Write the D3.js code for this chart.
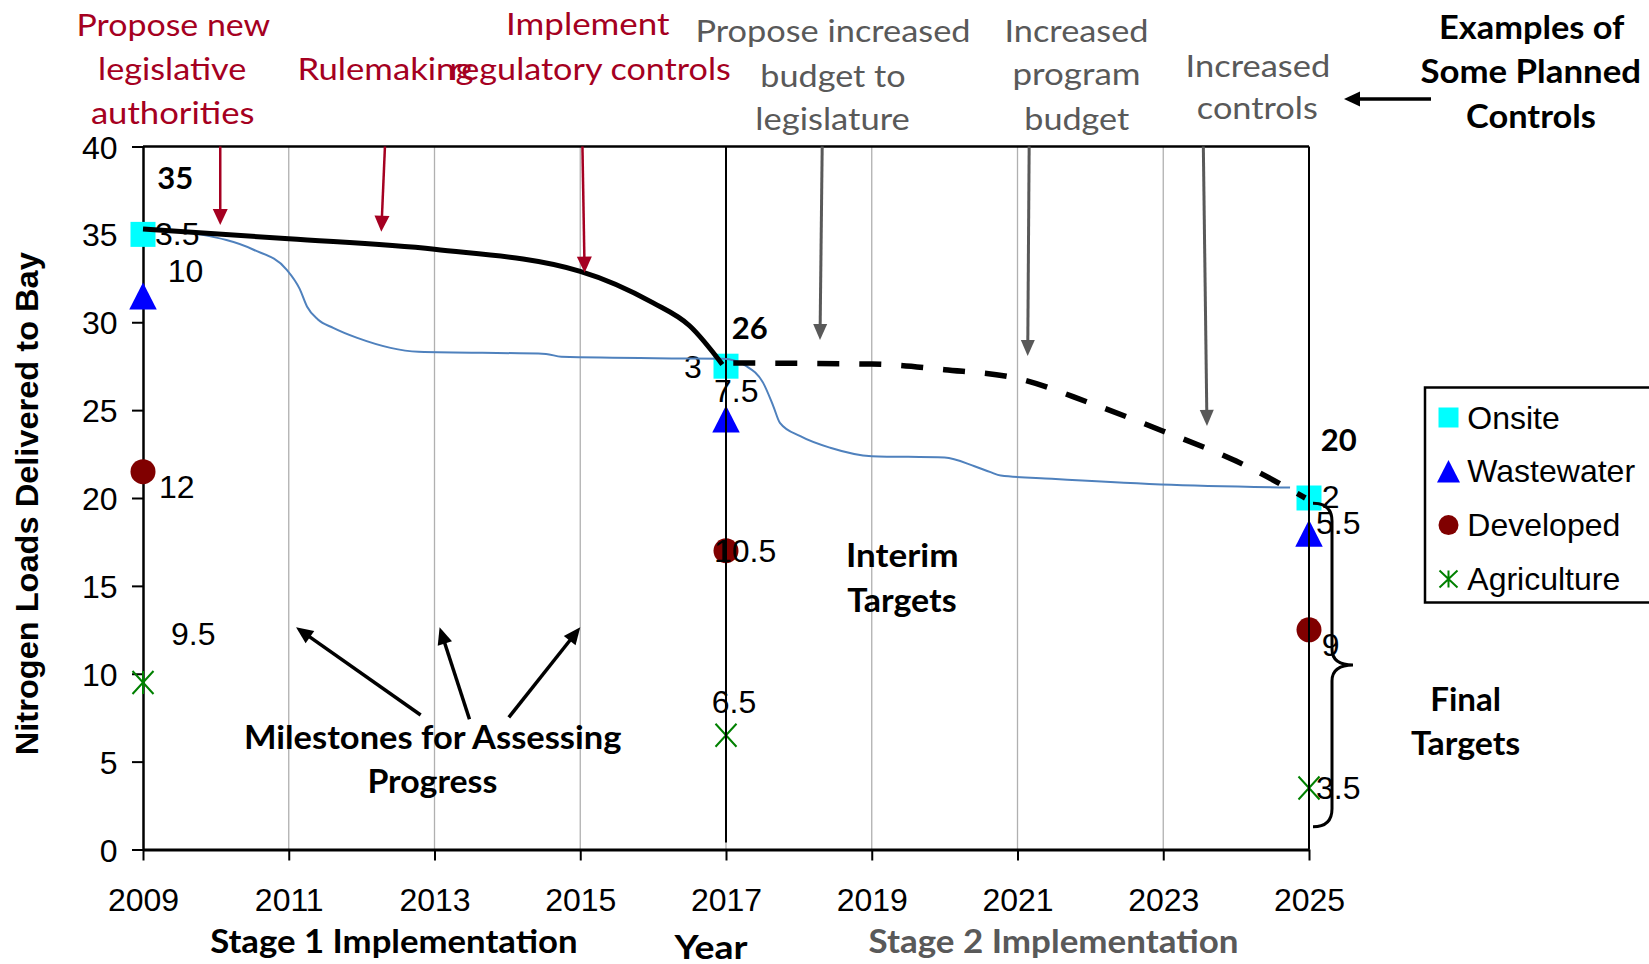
<!DOCTYPE html>
<html>
<head>
<meta charset="utf-8">
<script src="https://cdn.jsdelivr.net/npm/d3@7"></script>
<style>
body { margin: 0; background: #fff; }
svg { display: block; }
</style>
</head>
<body>
<svg></svg>
<script>
// loads by source (millions of lbs), stacked at each milestone year
let years = [2009, 2017, 2025]
let onsite = [3.5, 3, 2]
let wastewater = [10, 7.5, 5.5]
let developed = [12, 10.5, 9]
let agriculture = [9.5, 6.5, 3.5]
let targetLabels = ['35', '26', '20']

let yTicks = [0, 5, 10, 15, 20, 25, 30, 35, 40]
let xTicks = [2009, 2011, 2013, 2015, 2017, 2019, 2021, 2023, 2025]

// stage 1 path (solid), stage 2 path (dashed), actual trend (thin blue)
let stage1Years = [2009, 2011, 2013, 2015, 2016, 2016.5, 2016.95]
let stage1Loads = [35.3, 34.75, 34.15, 32.9, 31.1, 29.8, 27.6]
let stage2Years = [2017.1, 2019, 2020, 2021, 2022, 2023, 2024, 2024.95]
let stage2Loads = [27.68, 27.62, 27.3, 26.8, 25.4, 23.8, 22.1, 20.0]
let trendYears = [2009, 2009.78, 2010.51, 2010.97, 2011.15, 2011.25, 2011.4, 2011.61, 2011.94, 2012.78,
    2014.53, 2014.74, 2016.42, 2016.96, 2017.28, 2017.51, 2017.65, 2017.74, 2018.02, 2018.43,
    2019.0, 2020.0, 2020.41, 2020.63, 2020.77, 2021.47, 2022.97, 2024.74]
let trendLoads = [35.3, 35.0, 34.14, 33.0, 31.9, 30.9, 30.16, 29.68, 29.11, 28.32,
    28.2, 28.03, 27.94, 27.92, 27.5, 26.55, 25.22, 24.28, 23.52, 22.86,
    22.38, 22.3, 21.81, 21.47, 21.28, 21.09, 20.77, 20.6]

// annotation arrows in [year, load] -> [year, load]
let redArrows = [[2010.06, 40, 2010.06, 35.53], [2012.32, 40, 2012.27, 35.15], [2015.03, 40, 2015.06, 32.82]]
let grayArrows = [[2018.32, 40, 2018.29, 28.99], [2021.16, 40, 2021.14, 28.08], [2023.55, 40, 2023.6, 24.1]]
let milestoneArrows = [[2012.81, 7.65, 2011.1, 12.64], [2013.48, 7.41, 2013.07, 12.64], [2014.02, 7.52, 2015.0, 12.64]]

let width = 1649
let height = 964
let svg = d3.select('svg').attr('width', width).attr('height', height)

let x = d3.scaleLinear().domain([2009, 2025]).range([143, 1309])
let y = d3.scaleLinear().domain([0, 40]).range([849.5, 146.5])

let arial = '"Liberation Sans", Arial, sans-serif'
let calibri = 'Lato, "Open Sans", sans-serif'
let red = '#A50021'
let gray = '#595959'

// grid lines
svg.append('g').selectAll('line')
    .data(xTicks.filter(d => d != 2009 && d != 2025))
    .enter().append('line')
    .attr('x1', d => x(d)).attr('x2', d => x(d))
    .attr('y1', y(40)).attr('y2', y(0))
    .attr('stroke', '#b0b0b0').attr('stroke-width', 1.3)

// axes
let yAxis = d3.axisLeft(y).tickValues(yTicks).tickSize(11).tickSizeOuter(0).tickPadding(14.5)
let xAxis = d3.axisBottom(x).tickValues(xTicks).tickFormat(d3.format('d')).tickSize(11).tickSizeOuter(0).tickPadding(27.5)

let gy = svg.append('g').attr('transform', 'translate(' + x(2009) + ',0)').call(yAxis)
let gx = svg.append('g').attr('transform', 'translate(0,' + y(0) + ')').call(xAxis)
gy.select('.domain').attr('stroke-width', 2.5)
gx.select('.domain').attr('stroke-width', 3)
for (let g of [gx, gy]) {
    g.selectAll('.tick line').attr('stroke', '#000').attr('stroke-width', 2)
    g.selectAll('.tick text').attr('font-family', arial).attr('font-size', 32).attr('fill', '#000')
}
gy.selectAll('.tick text').attr('dy', '0.36em')

// frame top
svg.append('line').attr('x1', x(2009)).attr('x2', x(2025)).attr('y1', y(40)).attr('y2', y(40))
    .attr('stroke', '#000').attr('stroke-width', 2.5)

// stacked marker positions
let table = years.map((yr, i) => ({year: yr, agriculture: agriculture[i], developed: developed[i], wastewater: wastewater[i], onsite: onsite[i]}))
let stacked = d3.stack().keys(['agriculture', 'developed', 'wastewater', 'onsite'])(table)

let markerPath = (kind, w, h) => {
    if (kind == 'square') return `M${-w/2},${-h/2}h${w}v${h}h${-w}Z`
    if (kind == 'triangle') return `M0,${-h/2}L${w/2},${h/2}L${-w/2},${h/2}Z`
    if (kind == 'circle') return d3.symbol(d3.symbolCircle, Math.PI * w * w / 4)()
    return `M${-w/2},${-h/2}L${w/2},${h/2}M${-w/2},${h/2}L${w/2},${-h/2}M0,${-h/2}V${h/2}`
}

let seriesStyle = {
    onsite: {name: 'Onsite', kind: 'square', color: '#00FFFF', size: [25, 25], legend: [20, 20],
        offsets: [[12, 10.6, 'start'], [-24.3, 12.1, 'end'], [12.7, 10.3, 'start']]},
    wastewater: {name: 'Wastewater', kind: 'triangle', color: '#0000FF', size: [27.5, 27], legend: [23, 22.5],
        offsets: [[24.7, -14.2, 'start'], [-12, -17.2, 'start'], [7, 0.8, 'start']]},
    developed: {name: 'Developed', kind: 'circle', color: '#800000', size: [25, 25], legend: [20, 20],
        offsets: [[16, 26.7, 'start'], [-12, 11, 'start'], [12.7, 26.2, 'start']]},
    agriculture: {name: 'Agriculture', kind: 'star', color: '#008000', size: [21, 23], legend: [18, 17],
        offsets: [[28, -37.5, 'start'], [-14.3, -22.3, 'start'], [7, 11.3, 'start']]}
}

let markerLayer = svg.append('g')
let labelLayer = svg.append('g')
stacked.forEach(layer => {
    let st = seriesStyle[layer.key]
    markerLayer.selectAll(null)
        .data(layer)
        .enter().append('path')
        .attr('transform', d => 'translate(' + x(d.data.year) + ',' + y(d[1]) + ')')
        .attr('d', markerPath(st.kind, st.size[0], st.size[1]))
        .attr('fill', st.kind == 'star' ? 'none' : st.color)
        .attr('stroke', st.kind == 'star' ? st.color : 'none')
        .attr('stroke-width', 2)

    labelLayer.selectAll(null)
        .data(layer)
        .enter().append('text')
        .attr('x', (d, i) => x(d.data.year) + st.offsets[i][0])
        .attr('y', (d, i) => y(d[1]) + st.offsets[i][1])
        .attr('text-anchor', (d, i) => st.offsets[i][2])
        .attr('font-family', arial).attr('font-size', 32).attr('fill', '#000')
        .text(d => d.data[layer.key])
})

// target totals
let totalOffsets = [[14.3, -45.4], [5.7, -26.9], [11.7, -47.3]]
let topLayer = stacked[stacked.length - 1]
labelLayer.selectAll(null)
    .data(topLayer)
    .enter().append('text')
    .attr('x', (d, i) => x(d.data.year) + totalOffsets[i][0])
    .attr('y', (d, i) => y(d[1]) + totalOffsets[i][1])
    .attr('font-family', calibri).attr('font-weight', 700).attr('font-size', 31).attr('fill', '#000')
    .text((d, i) => targetLabels[i])

// vertical milestone lines
svg.append('line').attr('x1', x(2017)).attr('x2', x(2017)).attr('y1', y(40)).attr('y2', y(0) - 7)
    .attr('stroke', '#000').attr('stroke-width', 2)
svg.append('line').attr('x1', x(2025)).attr('x2', x(2025)).attr('y1', y(40)).attr('y2', y(0))
    .attr('stroke', '#000').attr('stroke-width', 2)

// curves
let line = d3.line().x(d => x(d[0])).y(d => y(d[1])).curve(d3.curveMonotoneX)
svg.append('path').attr('d', line(d3.zip(trendYears, trendLoads)))
    .attr('fill', 'none').attr('stroke', '#4F81BD').attr('stroke-width', 2)
svg.append('path').attr('d', line(d3.zip(stage1Years, stage1Loads)))
    .attr('fill', 'none').attr('stroke', '#000').attr('stroke-width', 5)
svg.append('path').attr('d', line(d3.zip(stage2Years, stage2Loads)))
    .attr('fill', 'none').attr('stroke', '#000').attr('stroke-width', 5.5)
    .attr('stroke-dasharray', '22,20')

// arrows
let drawArrow = (x1, y1, x2, y2, color, w, headLen, headW) => {
    let ang = Math.atan2(y2 - y1, x2 - x1)
    let hx = x2 - Math.cos(ang) * headLen
    let hy = y2 - Math.sin(ang) * headLen
    let px = -Math.sin(ang) * headW / 2
    let py = Math.cos(ang) * headW / 2
    svg.append('line').attr('x1', x1).attr('y1', y1)
        .attr('x2', x2 - Math.cos(ang) * headLen * 0.8).attr('y2', y2 - Math.sin(ang) * headLen * 0.8)
        .attr('stroke', color).attr('stroke-width', w)
    svg.append('path').attr('d', `M${x2},${y2}L${hx + px},${hy + py}L${hx - px},${hy - py}Z`).attr('fill', color)
}
redArrows.forEach(a => drawArrow(x(a[0]), y(a[1]), x(a[2]), y(a[3]), red, 2.5, 16, 15))
grayArrows.forEach(a => drawArrow(x(a[0]), y(a[1]), x(a[2]), y(a[3]), gray, 3, 16, 14))
milestoneArrows.forEach(a => drawArrow(x(a[0]), y(a[1]), x(a[2]), y(a[3]), '#000', 3.5, 17, 15))
drawArrow(1431, 99, 1344, 99, '#000', 3.5, 16, 15)

// final targets brace
let bx = x(2025)
let yt = y(19.7), ym = y(10.5), yb = y(1.3)
svg.append('path')
    .attr('d', `M${bx + 4},${yt}Q${bx + 23},${yt} ${bx + 23},${yt + 18}L${bx + 23},${ym - 16}` +
        `Q${bx + 23},${ym} ${bx + 44},${ym}Q${bx + 23},${ym} ${bx + 23},${ym + 16}` +
        `L${bx + 23},${yb - 18}Q${bx + 23},${yb} ${bx + 4},${yb}`)
    .attr('fill', 'none').attr('stroke', '#000').attr('stroke-width', 3)

// legend
let legend = svg.append('g')
legend.append('rect').attr('x', 1425).attr('y', 387.5).attr('width', 240).attr('height', 215)
    .attr('fill', '#fff').attr('stroke', '#000').attr('stroke-width', 2.5)
let legendKeys = ['onsite', 'wastewater', 'developed', 'agriculture']
legendKeys.forEach((k, i) => {
    let st = seriesStyle[k]
    let cy = 417.5 + i * 53.8
    legend.append('path')
        .attr('transform', 'translate(' + 1448.5 + ',' + cy + ')')
        .attr('d', markerPath(st.kind, st.legend[0], st.legend[1]))
        .attr('fill', st.kind == 'star' ? 'none' : st.color)
        .attr('stroke', st.kind == 'star' ? st.color : 'none')
        .attr('stroke-width', 2)
    legend.append('text').attr('x', 1467.3).attr('y', cy + 11)
        .attr('font-family', arial).attr('font-size', 32).attr('fill', '#000')
        .text(st.name)
})

// y axis title
svg.append('text')
    .attr('transform', 'translate(38,503.7) rotate(-90)')
    .attr('text-anchor', 'middle')
    .attr('font-family', arial).attr('font-weight', 700).attr('font-size', 32)
    .attr('textLength', 503).attr('lengthAdjust', 'spacingAndGlyphs')
    .text('Nitrogen Loads Delivered to Bay')

// annotation text: [text, centre x, baseline, width, colour, bold]
let notes = [
    ['Propose new', 173.4, 36, 193.7, red, 0],
    ['legislative', 172.2, 80, 148.3, red, 0],
    ['authorities', 172.7, 124, 163.6, red, 0],
    ['Rulemaking', 385.5, 80, 176, red, 0],
    ['Implement', 587.8, 35, 163.6, red, 0],
    ['regulatory controls', 590.2, 80, 281.2, red, 0],
    ['Propose increased', 833, 41.7, 275, gray, 0],
    ['budget to', 833, 86.7, 145.3, gray, 0],
    ['legislature', 832.6, 130, 154.5, gray, 0],
    ['Increased', 1076.5, 41.7, 144, gray, 0],
    ['program', 1076.5, 85, 128, gray, 0],
    ['budget', 1076.8, 130, 105, gray, 0],
    ['Increased', 1257.9, 76.7, 144.6, gray, 0],
    ['controls', 1257.3, 119.3, 121, gray, 0],
    ['Examples of', 1531.7, 39.3, 185.4, '#000', 1],
    ['Some Planned', 1530.7, 83.3, 220.6, '#000', 1],
    ['Controls', 1531, 128.3, 130, '#000', 1],
    ['Milestones for Assessing', 432.7, 749.3, 377.5, '#000', 1],
    ['Progress', 432.4, 793.3, 130, '#000', 1],
    ['Interim', 902.2, 566.7, 112.6, '#000', 1],
    ['Targets', 901.9, 611.7, 109.4, '#000', 1],
    ['Final', 1465.6, 710.7, 70.8, '#000', 1],
    ['Targets', 1465.6, 755, 109.4, '#000', 1],
    ['Stage 1 Implementation', 393.9, 953.3, 367.4, '#000', 1],
    ['Year', 711, 959, 73, '#000', 1],
    ['Stage 2 Implementation', 1053.5, 953.3, 370, gray, 1]
]
svg.append('g').selectAll('text')
    .data(notes)
    .enter().append('text')
    .attr('x', d => d[1]).attr('y', d => d[2])
    .attr('text-anchor', 'middle')
    .attr('font-family', calibri).attr('font-size', 31.5)
    .attr('font-weight', d => d[5] ? 700 : 400)
    .attr('fill', d => d[4])
    .attr('textLength', d => d[3]).attr('lengthAdjust', 'spacingAndGlyphs')
    .text(d => d[0])
</script>
</body>
</html>
